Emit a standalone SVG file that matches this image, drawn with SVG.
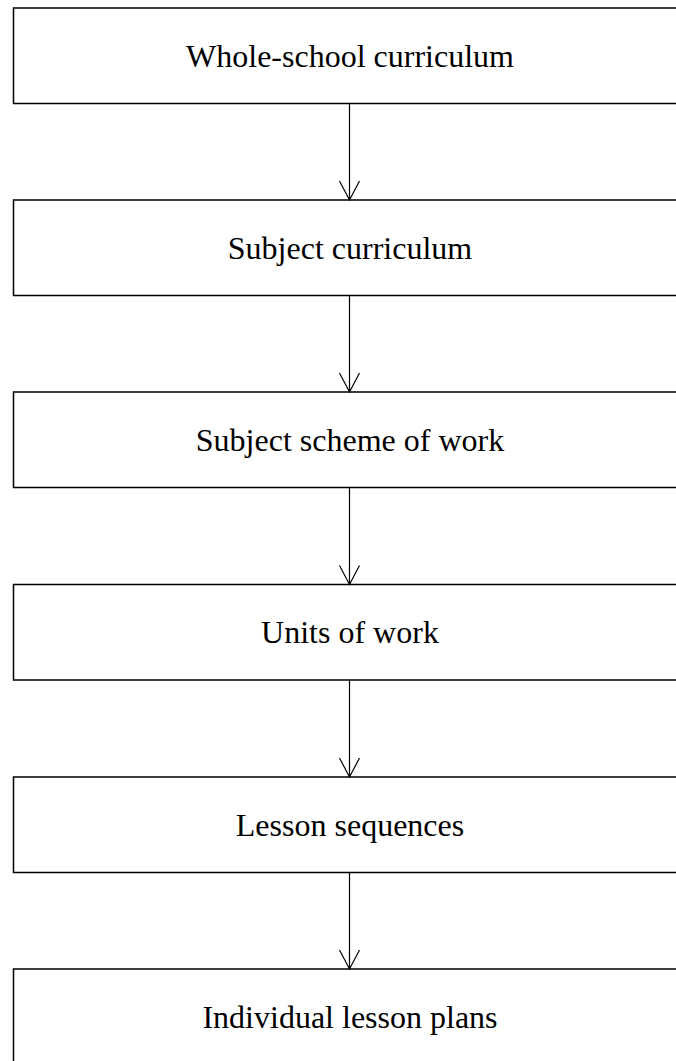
<svg xmlns="http://www.w3.org/2000/svg" width="676" height="1061" viewBox="0 0 676 1061">
<style>
.box{fill:#fff;stroke:#000;stroke-width:1.5}
.lbl{font-family:"Liberation Serif","Times New Roman",serif;font-size:32px;fill:#000;text-anchor:middle}
.edge{fill:none;stroke:#000;stroke-width:1.2}
</style>
<rect width="676" height="1061" fill="#fff"/>
<g id="n1"><rect class="box" x="13.5" y="8" width="680" height="95.5"/><text class="lbl" x="350" y="67">Whole-school curriculum</text></g>
<g id="n2"><rect class="box" x="13.5" y="200" width="680" height="95.5"/><text class="lbl" x="350" y="259">Subject curriculum</text></g>
<g id="n3"><rect class="box" x="13.5" y="392" width="680" height="95.5"/><text class="lbl" x="350" y="451">Subject scheme of work</text></g>
<g id="n4"><rect class="box" x="13.5" y="584.5" width="680" height="95.5"/><text class="lbl" x="350" y="643">Units of work</text></g>
<g id="n5"><rect class="box" x="13.5" y="777" width="680" height="95.5"/><text class="lbl" x="350" y="836">Lesson sequences</text></g>
<g id="n6"><rect class="box" x="13.5" y="969" width="680" height="100"/><text class="lbl" x="350" y="1028">Individual lesson plans</text></g>
<g id="edges">
<path class="edge" d="M349.5 103.5V200M339.5 181L349.5 200L359.5 181"/>
<path class="edge" d="M349.5 295.5V392M339.5 373L349.5 392L359.5 373"/>
<path class="edge" d="M349.5 487.5V584.5M339.5 565.5L349.5 584.5L359.5 565.5"/>
<path class="edge" d="M349.5 680V777M339.5 758L349.5 777L359.5 758"/>
<path class="edge" d="M349.5 872.5V969M339.5 950L349.5 969L359.5 950"/>
</g>
</svg>
